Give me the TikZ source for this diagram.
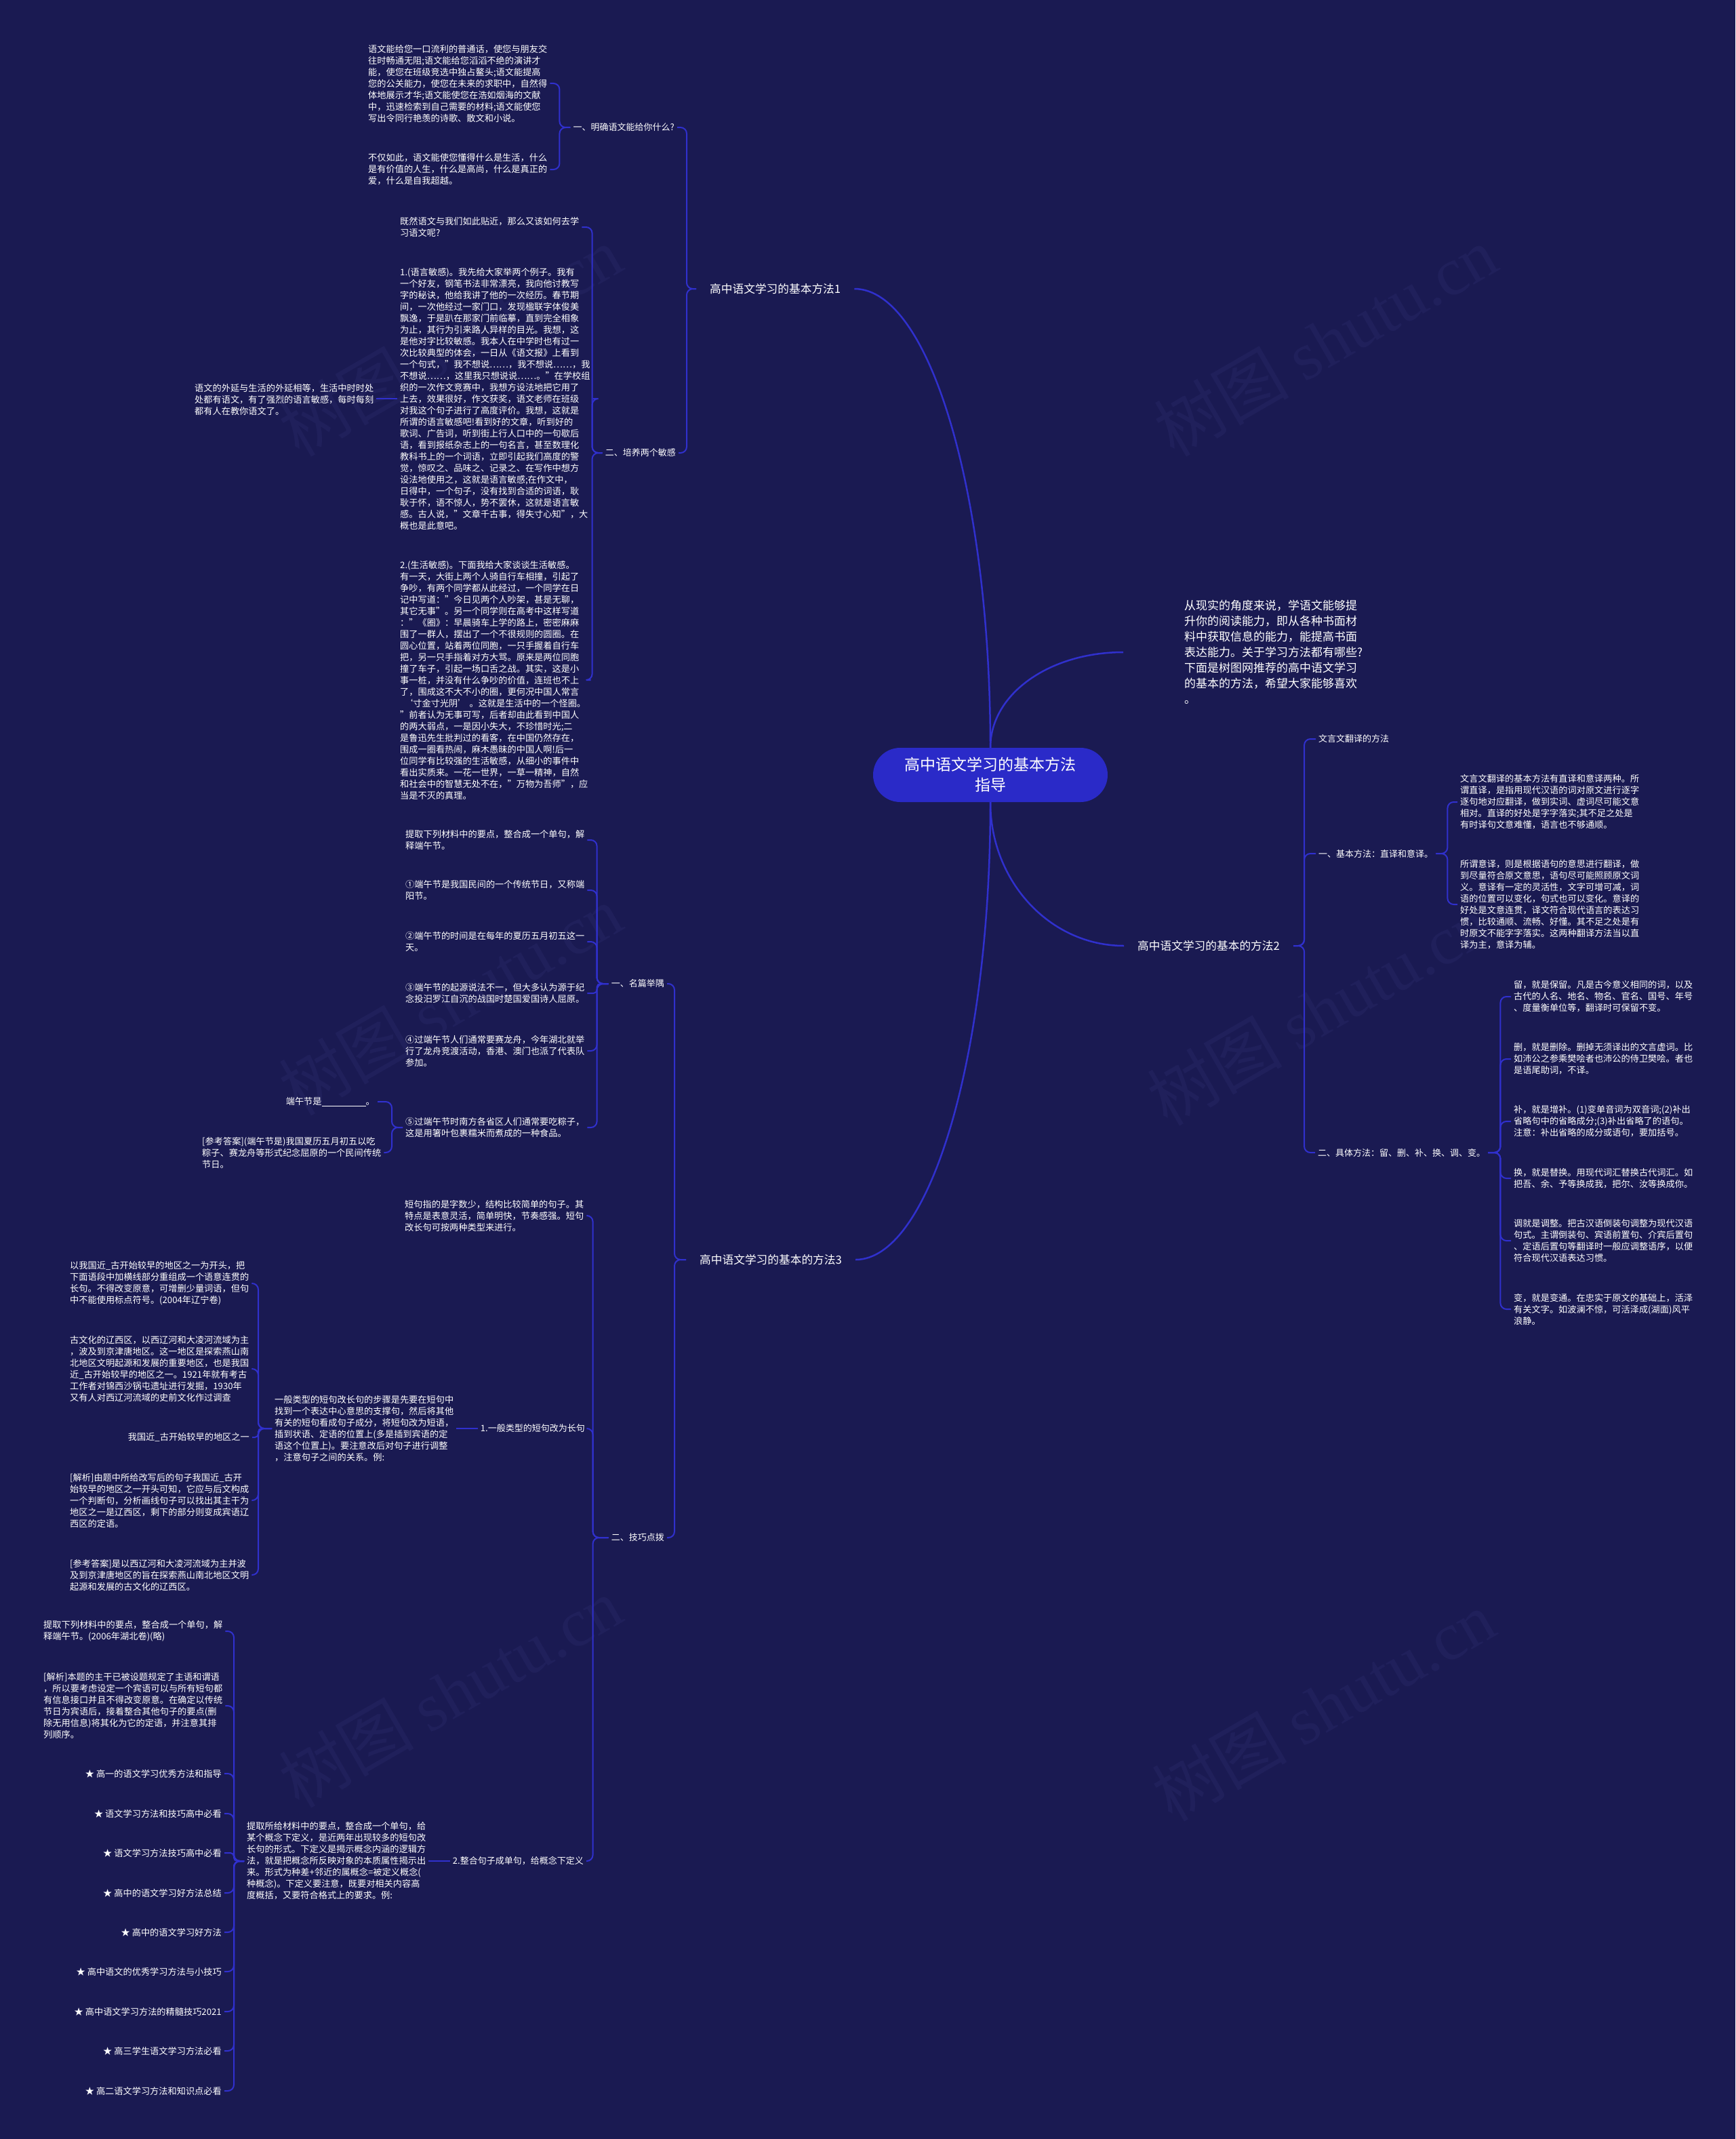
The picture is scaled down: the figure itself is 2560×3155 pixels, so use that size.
\documentclass[tikz,border=0pt]{standalone}
\usepackage{fontspec}
\setmainfont{Noto Sans CJK SC}
\newfontfamily\wmserif{Liberation Serif}
\definecolor{bg}{RGB}{26,26,82}
\definecolor{linec}{RGB}{48,48,205}
\definecolor{hubc}{RGB}{42,42,200}
\definecolor{wmc}{RGB}{32,32,91}
\tikzset{
  leaf/.style={text=white, font=\fontsize{13.2}{17}\selectfont, align=left, inner xsep=4pt, inner ysep=2pt},
  lab/.style={text=white, font=\fontsize{13}{17}\selectfont, align=left, inner xsep=4pt, inner ysep=2pt},
  branch/.style={text=white, font=\fontsize{16.7}{20}\selectfont, inner xsep=20pt, inner ysep=3pt},
  intro/.style={text=white, font=\fontsize{17}{23}\selectfont, align=left, inner xsep=4pt, inner ysep=2pt},
  hub/.style={fill=hubc, text=white, font=\fontsize{23}{30}\selectfont, align=center, rounded corners=40pt, minimum width=346pt, minimum height=80pt},
  conn/.style={draw=linec, line width=2pt, rounded corners=9pt},
  tightconn/.style={draw=linec, line width=2pt, rounded corners=5pt},
  mainconn/.style={draw=linec, line width=2.5pt},
  wmark/.style={text=wmc, font=\fontsize{100}{100}\selectfont, rotate=30, inner sep=0pt}
}
\begin{document}
\begin{tikzpicture}[x=1pt,y=-1pt]
\fill[bg] (0,0) rectangle (2560,3155);
\useasboundingbox (0,0) rectangle (2560,3155);

% watermarks
\foreach \wx/\wy [count=\wi] in {664/503,1955/503,664/1475,1945/1490,664/2496,1952/2516}
  \node[wmark] (wm\wi) at (\wx,\wy) {树图 {\wmserif shutu.cn}};

% hub
\node[hub] (hub) at (1461,1143) {高中语文学习的基本方法\\指导};

% intro
\node[intro, anchor=west] (intro) at (1743,962) {从现实的角度来说，学语文能够提\\升你的阅读能力，即从各种书面材\\料中获取信息的能力，能提高书面\\表达能力。关于学习方法都有哪些?\\下面是树图网推荐的高中语文学习\\的基本的方法，希望大家能够喜欢\\。};

% branches
\node[branch, anchor=west] (b1) at (1027,426) {高中语文学习的基本方法1};
\node[branch, anchor=west] (b2) at (1658,1395) {高中语文学习的基本的方法2};
\node[branch, anchor=west] (b3) at (1012,1858) {高中语文学习的基本的方法3};

\draw[mainconn] (hub.north) .. controls (1461,1023) and (1549,962) .. ([xshift=-86pt]intro.west);
\draw[mainconn] (hub.north) .. controls (1461,730) and (1372,426) .. (b1.east);
\draw[mainconn] (hub.south) .. controls (1461,1300) and (1549,1395) .. (b2.west);
\draw[mainconn] (hub.south) .. controls (1461,1556) and (1372,1858) .. (b3.east);

% ---------- branch 1 ----------
\node[lab, anchor=east] (l1a) at (999,188) {一、明确语文能给你什么?};
\node[lab, anchor=east] (l1b) at (1001,668) {二、培养两个敏感};
\foreach \c in {l1a,l1b} \draw[conn] (b1.west) -- ++(-14,0) |- (\c.east);

\node[leaf, anchor=west] (A) at (539,123) {语文能给您一口流利的普通话，使您与朋友交\\往时畅通无阻;语文能给您滔滔不绝的演讲才\\能，使您在班级竞选中独占鳌头;语文能提高\\您的公关能力，使您在未来的求职中，自然得\\体地展示才华;语文能使您在浩如烟海的文献\\中，迅速检索到自己需要的材料;语文能使您\\写出令同行艳羡的诗歌、散文和小说。};
\node[leaf, anchor=west] (B) at (539,250) {不仅如此，语文能使您懂得什么是生活，什么\\是有价值的人生，什么是高尚，什么是真正的\\爱，什么是自我超越。};
\foreach \c in {A,B} \draw[conn] (l1a.west) -- ++(-16,0) |- (\c.east);

\node[leaf, anchor=west] (C) at (586,335) {既然语文与我们如此贴近，那么又该如何去学\\习语文呢?};
\node[leaf, anchor=west] (D) at (586,588) {1.(语言敏感)。我先给大家举两个例子。我有\\一个好友，钢笔书法非常漂亮，我向他讨教写\\字的秘诀，他给我讲了他的一次经历。春节期\\间，一次他经过一家门口，发现楹联字体俊美\\飘逸，于是趴在那家门前临摹，直到完全相象\\为止，其行为引来路人异样的目光。我想，这\\是他对字比较敏感。我本人在中学时也有过一\\次比较典型的体会，一日从《语文报》上看到\\一个句式，"我不想说……，我不想说……，我\\不想说……，这里我只想说说……。"在学校组\\织的一次作文竞赛中，我想方设法地把它用了\\上去，效果很好，作文获奖，语文老师在班级\\对我这个句子进行了高度评价。我想，这就是\\所谓的语言敏感吧!看到好的文章，听到好的\\歌词、广告词，听到街上行人口中的一句歇后\\语，看到报纸杂志上的一句名言，甚至数理化\\教科书上的一个词语，立即引起我们高度的警\\觉，惊叹之、品味之、记录之、在写作中想方\\设法地使用之，这就是语言敏感;在作文中，\\日得中，一个句子，没有找到合适的词语，耿\\耿于怀，语不惊人，势不罢休，这就是语言敏\\感。古人说，"文章千古事，得失寸心知"，大\\概也是此意吧。};
\node[leaf, anchor=west] (F) at (586,1003) {2.(生活敏感)。下面我给大家谈谈生活敏感。\\有一天，大街上两个人骑自行车相撞，引起了\\争吵，有两个同学都从此经过，一个同学在日\\记中写道："今日见两个人吵架，甚是无聊，\\其它无事"。另一个同学则在高考中这样写道\\："《圈》：早晨骑车上学的路上，密密麻麻\\围了一群人，摆出了一个不很规则的圆圈。在\\圆心位置，站着两位同胞，一只手握着自行车\\把，另一只手指着对方大骂。原来是两位同胞\\撞了车子，引起一场口舌之战。其实，这是小\\事一桩，并没有什么争吵的价值，连班也不上\\了，围成这不大不小的圈，更何况中国人常言\\\hspace*{6pt}‘寸金寸光阴’\hspace{4pt}。这就是生活中的一个怪圈。\\"前者认为无事可写，后者却由此看到中国人\\的两大弱点，一是因小失大，不珍惜时光;二\\是鲁迅先生批判过的看客，在中国仍然存在，\\围成一圈看热闹，麻木愚昧的中国人啊!后一\\位同学有比较强的生活敏感，从细小的事件中\\看出实质来。一花一世界，一草一精神，自然\\和社会中的智慧无处不在，"万物为吾师"，应\\当是不灭的真理。};
\foreach \c in {C,D,F} \draw[conn] (l1b.west) -- ++(-15,0) |- (\c.east);

\node[leaf, anchor=west] (E) at (283,589) {语文的外延与生活的外延相等，生活中时时处\\处都有语文，有了强烈的语言敏感，每时每刻\\都有人在教你语文了。};
\draw[conn] (D.west) -- (E.east |- D.west);

% ---------- branch 2 ----------
\node[lab, anchor=west] (r1) at (1941,1090) {文言文翻译的方法};
\node[lab, anchor=west] (r2) at (1941,1259) {一、基本方法：直译和意译。};
\node[lab, anchor=west] (r3) at (1940,1700) {二、具体方法：留、删、补、换、调、变。};
\foreach \c in {r1,r2,r3} \draw[conn] (b2.east) -- ++(16,0) |- (\c.west);

\node[leaf, anchor=west] (N1) at (2150,1183) {文言文翻译的基本方法有直译和意译两种。所\\谓直译，是指用现代汉语的词对原文进行逐字\\逐句地对应翻译，做到实词、虚词尽可能文意\\相对。直译的好处是字字落实;其不足之处是\\有时译句文意难懂，语言也不够通顺。};
\node[leaf, anchor=west] (N2) at (2150,1334) {所谓意译，则是根据语句的意思进行翻译，做\\到尽量符合原文意思，语句尽可能照顾原文词\\义。意译有一定的灵活性，文字可增可减，词\\语的位置可以变化，句式也可以变化。意译的\\好处是文意连贯，译文符合现代语言的表达习\\惯，比较通顺、流畅、好懂。其不足之处是有\\时原文不能字字落实。这两种翻译方法当以直\\译为主，意译为辅。};
\foreach \c in {N1,N2} \draw[conn] (r2.east) -- ++(17,0) |- (\c.west);

\node[leaf, anchor=west] (P1) at (2229,1470) {留，就是保留。凡是古今意义相同的词，以及\\古代的人名、地名、物名、官名、国号、年号\\、度量衡单位等，翻译时可保留不变。};
\node[leaf, anchor=west] (P2) at (2229,1562) {删，就是删除。删掉无须译出的文言虚词。比\\如沛公之参乘樊哙者也沛公的侍卫樊哙。者也\\是语尾助词，不译。};
\node[leaf, anchor=west] (P3) at (2229,1654) {补，就是增补。(1)变单音词为双音词;(2)补出\\省略句中的省略成分;(3)补出省略了的语句。\\注意：补出省略的成分或语句，要加括号。};
\node[leaf, anchor=west] (P4) at (2229,1738) {换，就是替换。用现代词汇替换古代词汇。如\\把吾、余、予等换成我，把尔、汝等换成你。};
\node[leaf, anchor=west] (P5) at (2229,1830) {调就是调整。把古汉语倒装句调整为现代汉语\\句式。主谓倒装句、宾语前置句、介宾后置句\\、定语后置句等翻译时一般应调整语序，以便\\符合现代汉语表达习惯。};
\node[leaf, anchor=west] (P6) at (2229,1931) {变，就是变通。在忠实于原文的基础上，活泽\\有关文字。如波澜不惊，可活泽成(湖面)风平\\浪静。};
\foreach \c in {P1,P2,P3,P4,P5,P6} \draw[conn] (r3.east) -- ++(18,0) |- (\c.west);

% ---------- branch 3 ----------
\node[lab, anchor=east] (l3a) at (984,1451) {一、名篇举隅};
\node[lab, anchor=east] (l3b) at (984,2268) {二、技巧点拨};
\foreach \c in {l3a,l3b} \draw[conn] (b3.west) -- ++(-17,0) |- (\c.east);

\node[leaf, anchor=west] (G1) at (594,1239) {提取下列材料中的要点，整合成一个单句，解\\释端午节。};
\node[leaf, anchor=west] (G2) at (594,1313) {①端午节是我国民间的一个传统节日，又称端\\阳节。};
\node[leaf, anchor=west] (G3) at (594,1389) {②端午节的时间是在每年的夏历五月初五这一\\天。};
\node[leaf, anchor=west] (G4) at (594,1465) {③端午节的起源说法不一，但大多认为源于纪\\念投汨罗江自沉的战国时楚国爱国诗人屈原。};
\node[leaf, anchor=west] (G5) at (594,1550) {④过端午节人们通常要赛龙舟，今年湖北就举\\行了龙舟竞渡活动，香港、澳门也派了代表队\\参加。};
\node[leaf, anchor=west] (G6) at (594,1663) {⑤过端午节时南方各省区人们通常要吃粽子，\\这是用箸叶包裹糯米而煮成的一种食品。};
\foreach \c in {G1,G2,G3,G5,G6} \draw[conn] (l3a.west) -- ++(-17,0) |- (\c.east);
\draw[tightconn] (l3a.west) -- ++(-17,0) |- (G4.east);

\node[leaf, anchor=east] (H1) at (557,1625) {端午节是\rule[-2pt]{65pt}{0.8pt}。};
\node[leaf, anchor=west] (H2) at (294,1700) {[参考答案](端午节是)我国夏历五月初五以吃\\粽子、赛龙舟等形式纪念屈原的一个民间传统\\节日。};
\foreach \c in {H1,H2} \draw[conn] (G6.west) -- ++(-16,0) |- (\c.east);

\node[leaf, anchor=west] (I1) at (593,1793) {短句指的是字数少，结构比较简单的句子。其\\特点是表意灵活，简单明快，节奏感强。短句\\改长句可按两种类型来进行。};
\node[lab, anchor=east] (I2) at (867,2107) {1.一般类型的短句改为长句};
\node[lab, anchor=east] (I3) at (865,2745) {2.整合句子成单句，给概念下定义};
\foreach \c in {I1,I2,I3} \draw[conn] (l3b.west) -- ++(-23,0) |- (\c.east);

\node[leaf, anchor=west] (J) at (401,2107) {一般类型的短句改长句的步骤是先要在短句中\\找到一个表达中心意思的支撑句，然后将其他\\有关的短句看成句子成分，将短句改为短语，\\插到状语、定语的位置上(多是插到宾语的定\\语这个位置上)。要注意改后对句子进行调整\\，注意句子之间的关系。例:};
\draw[conn] (I2.west) -- (J.east |- I2.west);

\node[leaf, anchor=west] (K1) at (99,1893) {以我国近\_古开始较早的地区之一为开头，把\\下面语段中加横线部分重组成一个语意连贯的\\长句。不得改变原意，可增删少量词语，但句\\中不能使用标点符号。(2004年辽宁卷)};
\node[leaf, anchor=west] (K2) at (99,2019) {古文化的辽西区，以西辽河和大凌河流域为主\\，波及到京津唐地区。这一地区是探索燕山南\\北地区文明起源和发展的重要地区，也是我国\\近\_古开始较早的地区之一。1921年就有考古\\工作者对锦西沙锅屯遗址进行发掘，1930年\\又有人对西辽河流域的史前文化作过调查};
\node[leaf, anchor=east] (K3) at (372,2120) {我国近\_古开始较早的地区之一};
\node[leaf, anchor=west] (K4) at (99,2213) {[解析]由题中所给改写后的句子我国近\_古开\\始较早的地区之一开头可知，它应与后文构成\\一个判断句，分析画线句子可以找出其主干为\\地区之一是辽西区，剩下的部分则变成宾语辽\\西区的定语。};
\node[leaf, anchor=west] (K5) at (99,2323) {[参考答案]是以西辽河和大凌河流域为主并波\\及到京津唐地区的旨在探索燕山南北地区文明\\起源和发展的古文化的辽西区。};
\foreach \c in {K1,K2,K4,K5} \draw[conn] (J.west) -- ++(-20,0) |- (\c.east);
\draw[tightconn] (J.west) -- ++(-20,0) |- (K3.east);

\node[leaf, anchor=west] (Lq) at (360,2745) {提取所给材料中的要点，整合成一个单句，给\\某个概念下定义，是近两年出现较多的短句改\\长句的形式。下定义是揭示概念内涵的逻辑方\\法，就是把概念所反映对象的本质属性揭示出\\来。形式为种差+邻近的属概念=被定义概念(\\种概念)。下定义要注意，既要对相关内容高\\度概括，又要符合格式上的要求。例:};
\draw[conn] (I3.west) -- (Lq.east |- I3.west);

\node[leaf, anchor=west] (M1) at (60,2406) {提取下列材料中的要点，整合成一个单句，解\\释端午节。(2006年湖北卷)(略)};
\node[leaf, anchor=west] (M2) at (60,2516) {[解析]本题的主干已被设题规定了主语和谓语\\，所以要考虑设定一个宾语可以与所有短句都\\有信息接口并且不得改变原意。在确定以传统\\节日为宾语后，接着整合其他句子的要点(删\\除无用信息)将其化为它的定语，并注意其排\\列顺序。};
\node[leaf, anchor=east] (S1) at (331,2616) {★ 高一的语文学习优秀方法和指导};
\node[leaf, anchor=east] (S2) at (331,2675) {★ 语文学习方法和技巧高中必看};
\node[leaf, anchor=east] (S3) at (331,2733) {★ 语文学习方法技巧高中必看};
\node[leaf, anchor=east] (S4) at (331,2792) {★ 高中的语文学习好方法总结};
\node[leaf, anchor=east] (S5) at (331,2850) {★ 高中的语文学习好方法};
\node[leaf, anchor=east] (S6) at (331,2908) {★ 高中语文的优秀学习方法与小技巧};
\node[leaf, anchor=east] (S7) at (331,2967) {★ 高中语文学习方法的精髓技巧2021};
\node[leaf, anchor=east] (S8) at (331,3025) {★ 高三学生语文学习方法必看};
\node[leaf, anchor=east] (S9) at (331,3084) {★ 高二语文学习方法和知识点必看};
\foreach \c in {M1,M2,S1,S2,S4,S5,S6,S7,S8,S9} \draw[conn] (Lq.west) -- ++(-15,0) |- (\c.east);
\draw[tightconn] (Lq.west) -- ++(-15,0) |- (S3.east);
\end{tikzpicture}
\end{document}
